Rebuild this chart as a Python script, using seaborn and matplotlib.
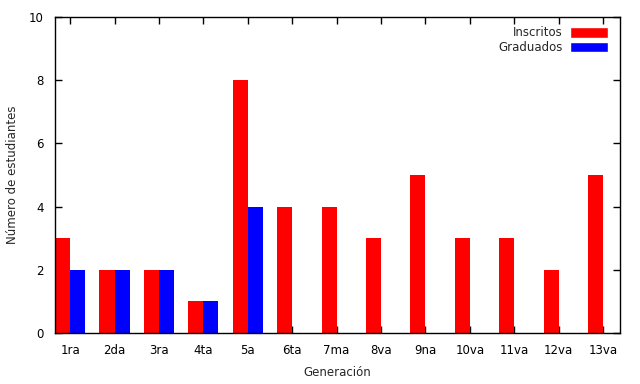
import pandas as pd
import matplotlib
matplotlib.use("Agg")
import matplotlib.pyplot as plt
import seaborn as sns
from matplotlib.patches import Patch

generaciones = ["1ra", "2da", "3ra", "4ta", "5a", "6ta", "7ma", "8va", "9na",
                "10va", "11va", "12va", "13va"]
inscritos = [3, 2, 2, 1, 8, 4, 4, 3, 5, 3, 3, 2, 5]
graduados = [2, 2, 2, 1, 4, 0, 0, 0, 0, 0, 0, 0, 0]

df = pd.DataFrame({
    "generacion": generaciones * 2,
    "valor": inscritos + graduados,
    "serie": ["Inscritos"] * len(generaciones) + ["Graduados"] * len(generaciones),
})

sns.set_style("white")
plt.rcParams["font.family"] = ["DejaVu Sans"]
plt.rcParams["font.size"] = 8.5

fig = plt.figure(figsize=(6.4, 3.84), dpi=100)
ax = fig.add_axes([55 / 640, 1 - 333 / 384, 565 / 640, 316 / 384])

colors = {"Inscritos": "#ff0000", "Graduados": "#0000ff"}
sns.barplot(data=df, x="generacion", y="valor", hue="serie", order=generaciones,
            hue_order=["Inscritos", "Graduados"], palette=colors, width=0.68,
            saturation=1, linewidth=0, ax=ax, legend=False)

ax.set_xlim(-0.34, 12.38)
ax.set_ylim(0, 10)
ax.set_yticks(range(0, 11, 2))
ax.set_xlabel("")
ax.set_ylabel("")
fig.text(337 / 640, 1 - 373 / 384, "Generación", ha="center", va="center")
fig.text(13 / 640, 1 - 175 / 384, "Número de estudiantes", ha="center", va="center",
         rotation=90)

for s in ax.spines.values():
    s.set_color("black")
    s.set_linewidth(1)
ax.tick_params(direction="in", length=5, width=1, top=True, right=True,
               bottom=True, left=True, colors="black", pad=8)

handles = [Patch(facecolor=colors["Inscritos"]), Patch(facecolor=colors["Graduados"])]
ax.legend(handles, ["Inscritos", "Graduados"], loc="upper right", frameon=False,
          markerfirst=False, handlelength=3.2, handleheight=1.0, handletextpad=0.6,
          labelspacing=0.15, borderaxespad=0.5, borderpad=0.3,
          bbox_to_anchor=(0.995, 1.0))

fig.savefig("out.png", dpi=100)
